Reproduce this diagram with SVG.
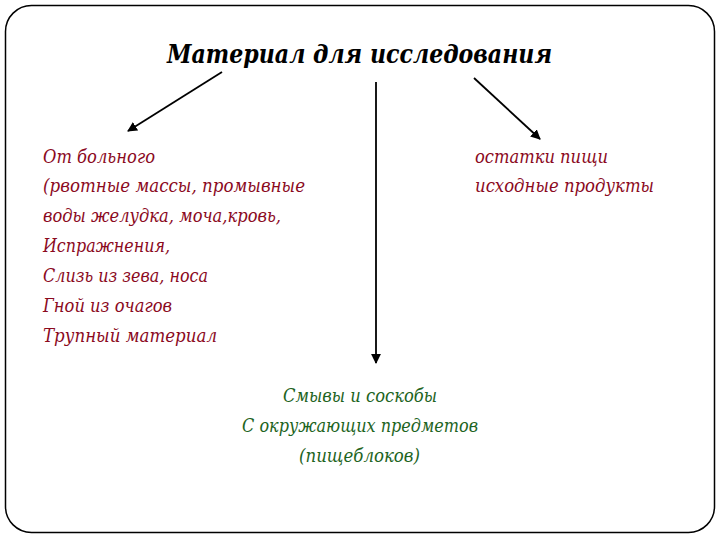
<svg xmlns="http://www.w3.org/2000/svg" width="720" height="540" viewBox="0 0 720 540">
<style>
.t{font-family:"DejaVu Serif","Liberation Serif",serif;font-style:italic}
.title{font-size:26px;font-weight:bold;fill:#000}
.red{font-size:18px;fill:#8B0A1E}
.green{font-size:18px;fill:#1E641E}
.con{stroke:#000;stroke-width:1.8;fill:none}
</style>
<defs>
<marker id="ah" viewBox="0 0 10 10" refX="9" refY="5" markerWidth="5.5" markerHeight="5.5" orient="auto"><path d="M0,0 L10,5 L0,10 z" fill="#000"/></marker>
</defs>
<rect x="5.5" y="5.5" width="709" height="527" rx="26" fill="#fff" stroke="#000" stroke-width="1.5"/>
<g id="title"><text class="t title" x="167" y="63" textLength="385" lengthAdjust="spacingAndGlyphs">Материал для исследования</text></g>
<g id="connectors">
<line class="con" x1="222" y1="72" x2="128" y2="131" marker-end="url(#ah)"/>
<line class="con" x1="376" y1="82" x2="376" y2="363" marker-end="url(#ah)"/>
<line class="con" x1="474" y1="78" x2="540" y2="139" marker-end="url(#ah)"/>
</g>
<g id="patient">
<text class="t red" x="43" y="163" textLength="112" lengthAdjust="spacingAndGlyphs">От больного</text>
<text class="t red" x="43" y="192" textLength="262" lengthAdjust="spacingAndGlyphs">(рвотные массы, промывные</text>
<text class="t red" x="43" y="222" textLength="238" lengthAdjust="spacingAndGlyphs">воды желудка, моча,кровь,</text>
<text class="t red" x="43" y="252" textLength="127" lengthAdjust="spacingAndGlyphs">Испражнения,</text>
<text class="t red" x="43" y="282" textLength="165" lengthAdjust="spacingAndGlyphs">Слизь из зева, носа</text>
<text class="t red" x="43" y="312" textLength="129" lengthAdjust="spacingAndGlyphs">Гной из очагов</text>
<text class="t red" x="43" y="342" textLength="174" lengthAdjust="spacingAndGlyphs">Трупный материал</text>
</g>
<g id="food">
<text class="t red" x="475" y="163" textLength="133" lengthAdjust="spacingAndGlyphs">остатки пищи</text>
<text class="t red" x="475" y="192" textLength="179" lengthAdjust="spacingAndGlyphs">исходные продукты</text>
</g>
<g id="swabs">
<text class="t green" x="283" y="402" textLength="154" lengthAdjust="spacingAndGlyphs">Смывы и соскобы</text>
<text class="t green" x="242" y="432" textLength="236" lengthAdjust="spacingAndGlyphs">С окружающих предметов</text>
<text class="t green" x="299" y="462" textLength="121" lengthAdjust="spacingAndGlyphs">(пищеблоков)</text>
</g>
</svg>
